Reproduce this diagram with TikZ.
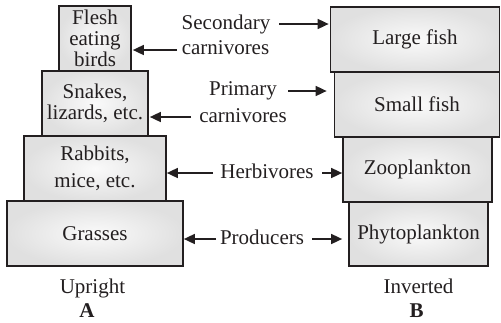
\documentclass[tikz,border=0pt]{standalone}
\usepackage{fontspec}
\setmainfont{Liberation Serif}
\usetikzlibrary{arrows.meta}
\definecolor{edge}{RGB}{35,31,32}
\tikzset{
  box/.style={draw=edge, line width=1.7pt, shading=radial, inner color=gray!4, outer color=gray!24,
    inner sep=0pt, align=center, font=\fontsize{21}{21}\selectfont, text=edge},
  lab/.style={anchor=base, inner sep=0pt, font=\fontsize{21}{21}\selectfont, text=edge},
  arr/.style={draw=edge, line width=1.6pt, -{Triangle[length=11pt,width=10pt]}}
}
\begin{document}
\begin{tikzpicture}[x=1pt,y=-1pt]
\useasboundingbox (0,0) rectangle (501,322);
% upright pyramid
\node[box, minimum width=72pt, minimum height=65pt] (flesh) at (95,38.5) {Flesh\\eating\\birds};
\node[box, minimum width=106pt, minimum height=65pt] (snakes) at (95,103.5) {Snakes,\\lizards, etc.};
\node[box, minimum width=142pt, minimum height=65pt] (rabbits) at (95,168.5) {Rabbits,\\[6pt]mice, etc.};
\node[box, minimum width=176pt, minimum height=65pt] (grasses) at (95,233.5) {Grasses};
% inverted pyramid
\node[box, minimum width=169pt, minimum height=65pt] (large) at (415,39.5) {Large fish};
\node[box, minimum width=165pt, minimum height=65pt] (small) at (417,104.5) {Small fish};
\node[box, minimum width=149pt, minimum height=65pt] (zoo) at (417.5,169.5) {Zooplankton};
\node[box, minimum width=139pt, minimum height=64pt] (phyto) at (418.5,234) {Phytoplankton};
% labels
\node[lab] (sec) at (226,29) {Secondary};
\node[lab] (car1) at (225.5,54) {carnivores};
\node[lab] (prim) at (243,95) {Primary};
\node[lab] (car2) at (243,122) {carnivores};
\node[lab] (herb) at (267,178) {Herbivores};
\node[lab] (prod) at (262,244) {Producers};
\node[lab] (upr) at (92.5,293) {Upright};
\node[lab, font=\fontsize{21}{21}\selectfont\bfseries] (la) at (87,317) {A};
\node[lab] (inv) at (418.5,293) {Inverted};
\node[lab, font=\fontsize{21}{21}\selectfont\bfseries] (lb) at (416.5,317) {B};
% arrow tails
\coordinate (t1) at (279,24);
\coordinate (t2) at (177,50);
\coordinate (t3) at (288,91);
\coordinate (t4) at (191,117);
\coordinate (t5) at (213,173);
\coordinate (t6) at (322,173);
\coordinate (t7) at (216,239);
\coordinate (t8) at (312,239);
% arrows
\draw[arr, shorten >=1pt] (t1) -- (t1 -| large.west);
\draw[arr, shorten >=1pt] (t2) -- (t2 -| flesh.east);
\draw[arr, shorten >=7pt] (t3) -- (t3 -| small.west);
\draw[arr, shorten >=1pt] (t4) -- (t4 -| snakes.east);
\draw[arr, shorten >=0pt] (t5) -- (t5 -| rabbits.east);
\draw[arr, shorten >=0pt] (t6) -- (t6 -| zoo.west);
\draw[arr, shorten >=0pt] (t7) -- (t7 -| grasses.east);
\draw[arr, shorten >=6pt] (t8) -- (t8 -| phyto.west);
\end{tikzpicture}
\end{document}
